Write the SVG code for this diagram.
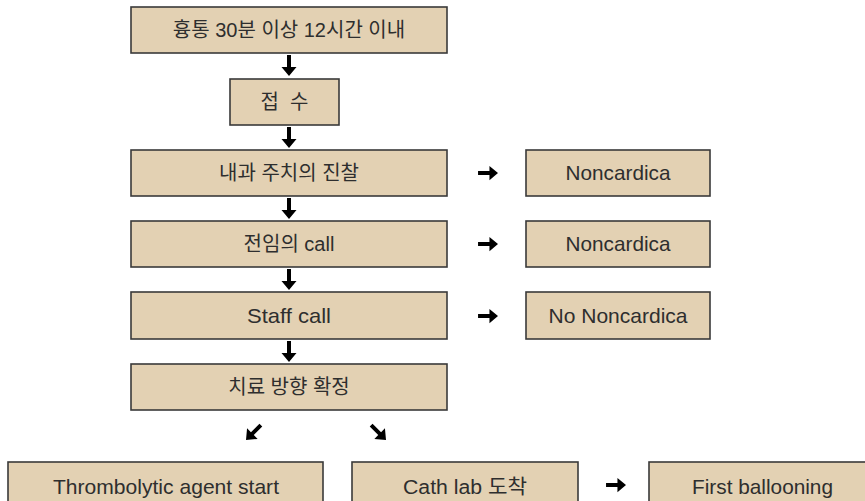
<svg xmlns="http://www.w3.org/2000/svg" xmlns:xlink="http://www.w3.org/1999/xlink" width="865" height="501" viewBox="0 0 865 501">
<style>
.box{fill:#E3D1B3;stroke:#3a3a3a;stroke-width:1.6}
.t{font-family:"Liberation Sans","Noto Sans CJK KR",sans-serif;font-size:20px;fill:#2e2e2e;text-anchor:middle}
.l{font-size:21px}
</style>
<defs>
<path id="arr" d="M-2,-21 H2 V-9 H7.5 L0,0 L-7.5,-9 H-2 Z" fill="#000"/>
</defs>
<rect width="865" height="501" fill="#fff"/>
<g id="n1"><rect class="box" x="131" y="7" width="316" height="46"/><text class="t" x="289" y="37">흉통 30분 이상 12시간 이내</text></g>
<g id="n2"><rect class="box" x="230" y="79" width="109" height="46"/><text class="t" x="284.5" y="109" xml:space="preserve">접  수</text></g>
<g id="n3"><rect class="box" x="131" y="150" width="316" height="46"/><text class="t" x="289" y="180">내과 주치의 진찰</text></g>
<g id="n4"><rect class="box" x="131" y="221" width="316" height="46"/><text class="t" x="289" y="251">전임의 call</text></g>
<g id="n5"><rect class="box" x="131" y="292" width="316" height="47"/><text class="t l" x="289" y="323" textLength="84" lengthAdjust="spacingAndGlyphs">Staff call</text></g>
<g id="n6"><rect class="box" x="131" y="364" width="316" height="46"/><text class="t" x="289" y="394">치료 방향 확정</text></g>
<g id="r1"><rect class="box" x="526" y="150" width="184" height="46"/><text class="t l" x="618" y="180" textLength="105" lengthAdjust="spacingAndGlyphs">Noncardica</text></g>
<g id="r2"><rect class="box" x="526" y="221" width="184" height="46"/><text class="t l" x="618" y="251" textLength="105" lengthAdjust="spacingAndGlyphs">Noncardica</text></g>
<g id="r3"><rect class="box" x="526" y="292" width="184" height="47"/><text class="t l" x="618" y="323" textLength="139" lengthAdjust="spacingAndGlyphs">No Noncardica</text></g>
<g id="b1"><rect class="box" x="8" y="462" width="315" height="50"/><text class="t l" x="166" y="494" textLength="226" lengthAdjust="spacingAndGlyphs">Thrombolytic agent start</text></g>
<g id="b2"><rect class="box" x="352" y="462" width="226" height="50"/><text class="t" x="465" y="494" textLength="124" lengthAdjust="spacingAndGlyphs">Cath lab 도착</text></g>
<g id="b3"><rect class="box" x="649" y="462" width="230" height="50"/><text class="t l" x="762.5" y="494" textLength="141" lengthAdjust="spacingAndGlyphs">First ballooning</text></g>
<g id="connectors">
<use xlink:href="#arr" transform="translate(289,76)"/>
<use xlink:href="#arr" transform="translate(289,148)"/>
<use xlink:href="#arr" transform="translate(289,219)"/>
<use xlink:href="#arr" transform="translate(289,290)"/>
<use xlink:href="#arr" transform="translate(289,362)"/>
<use xlink:href="#arr" transform="translate(498,173) rotate(-90) scale(0.95)"/>
<use xlink:href="#arr" transform="translate(498,244) rotate(-90) scale(0.95)"/>
<use xlink:href="#arr" transform="translate(498,316) rotate(-90) scale(0.95)"/>
<use xlink:href="#arr" transform="translate(626,485) rotate(-90) scale(0.95)"/>
<use xlink:href="#arr" transform="translate(246,440) rotate(45)"/>
<use xlink:href="#arr" transform="translate(386,440) rotate(-45)"/>
</g>
</svg>
